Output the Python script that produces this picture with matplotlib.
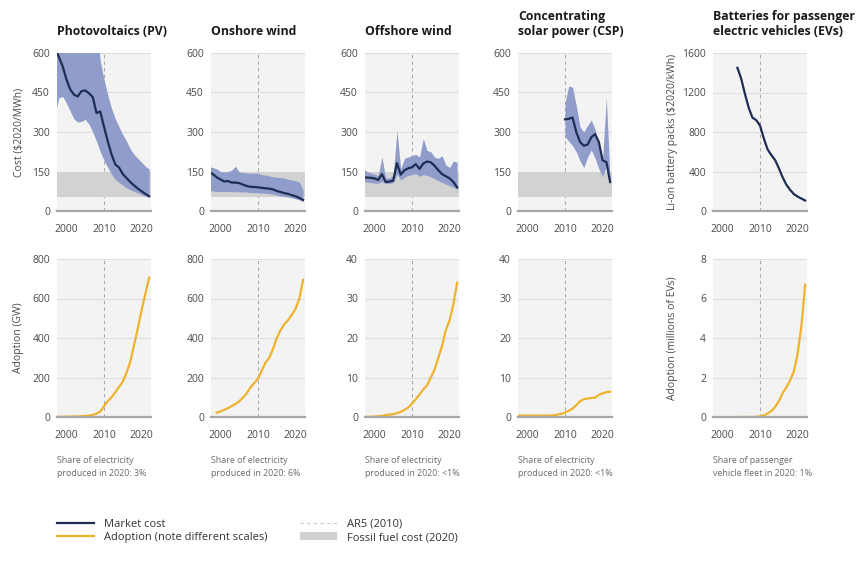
import matplotlib
matplotlib.use("Agg")
import matplotlib.pyplot as plt
from matplotlib.lines import Line2D
from matplotlib.patches import Patch

plt.rcParams['font.family'] = ['Open Sans', 'DejaVu Sans']

# ---- data ----
years_97 = list(range(1997, 2023))

pv_cost = [620, 585, 550, 500, 462, 442, 435, 455, 458, 447, 433, 372, 378,
           320, 265, 215, 177, 165, 140, 125, 110, 97, 85, 75, 65, 56]
pv_hi = [700, 700, 700, 700, 700, 700, 700, 700, 700, 700, 700, 700, 570,
         500, 440, 390, 350, 320, 290, 265, 235, 215, 200, 185, 170, 160]
pv_lo = [370, 430, 435, 410, 380, 350, 338, 340, 348, 330, 300, 265, 225,
         192, 165, 140, 120, 108, 98, 88, 80, 74, 68, 62, 57, 52]

on_cost = [148, 140, 128, 120, 112, 114, 108, 108, 106, 100, 95, 92, 91,
           90, 88, 86, 85, 82, 76, 72, 68, 65, 60, 56, 50, 42]
on_hi = [168, 165, 160, 150, 148, 150, 155, 170, 148, 146, 144, 144, 143,
         143, 138, 136, 133, 130, 128, 127, 125, 120, 118, 115, 110, 80]
on_lo = [80, 76, 74, 74, 74, 74, 73, 73, 73, 72, 72, 70, 70,
         69, 68, 67, 66, 64, 60, 57, 55, 53, 50, 46, 42, 36]

off_cost = [128, 127, 126, 124, 118, 140, 110, 112, 115, 182, 138, 155, 162,
            166, 178, 160, 180, 188, 185, 172, 155, 140, 132, 124, 110, 90]
off_hi = [160, 150, 145, 140, 135, 205, 125, 125, 135, 305, 160, 200, 205,
          210, 215, 205, 275, 230, 225, 205, 200, 210, 175, 165, 190, 185]
off_lo = [112, 110, 108, 106, 105, 112, 104, 105, 108, 140, 118, 128, 135,
          138, 142, 132, 138, 135, 130, 122, 115, 108, 102, 96, 90, 82]

years_csp = list(range(2010, 2023))
csp_cost = [348, 350, 355, 300, 262, 248, 252, 280, 292, 262, 192, 186, 110]
csp_hi = [410, 475, 470, 400, 320, 300, 325, 345, 310, 250, 200, 430, 115]
csp_lo = [283, 265, 248, 225, 190, 165, 205, 232, 200, 160, 130, 170, 105]

years_bat = list(range(2004, 2023))
bat_cost = [1450, 1340, 1185, 1045, 945, 920, 865, 737, 625, 567, 517, 435,
            343, 267, 214, 172, 146, 126, 106]

pv_adopt = [1, 1, 1, 1.5, 2, 2.5, 3, 4, 5, 7, 10, 17, 28,
            55, 80, 100, 125, 152, 180, 225, 280, 365, 450, 540, 625, 705]

years_on = list(range(1999, 2023))
on_adopt = [22, 28, 36, 45, 55, 66, 80, 98, 120, 150, 172, 194, 235, 275,
            300, 345, 400, 440, 470, 490, 518, 548, 600, 695]

off_adopt = [0.05, 0.05, 0.05, 0.1, 0.2, 0.25, 0.5, 0.6, 0.7, 1.0, 1.3, 1.8,
             2.4, 3.4, 4.5, 5.7, 7.0, 8.0, 10.0, 12.0, 15.0, 18.0, 22.0, 24.5,
             28.5, 34.0]

csp_adopt = [0.35, 0.35, 0.35, 0.35, 0.35, 0.35, 0.35, 0.35, 0.35, 0.35,
             0.45, 0.6, 0.8, 1.1, 1.6, 2.1, 3.0, 4.0, 4.5, 4.7, 4.8, 4.9,
             5.6, 6.0, 6.3, 6.4]

ev_adopt = [0, 0, 0, 0, 0, 0.01, 0.03, 0.08, 0.17, 0.3, 0.5, 0.8, 1.2,
            1.5, 1.85, 2.3, 3.2, 4.6, 6.7]

titles = ["Photovoltaics (PV)", "Onshore wind", "Offshore wind",
          "Concentrating\nsolar power (CSP)",
          "Batteries for passenger\nelectric vehicles (EVs)"]
notes = ["Share of electricity\nproduced in 2020: 3%",
         "Share of electricity\nproduced in 2020: 6%",
         "Share of electricity\nproduced in 2020: <1%",
         "Share of electricity\nproduced in 2020: <1%",
         "Share of passenger\nvehicle fleet in 2020: 1%"]
fossil_range = (55, 148)

# ---- styling ----
NAVY = '#1e2d52'
BAND = '#909cca'
ORANGE = '#eeb32e'
FOSSIL = '#d2d2d2'
BG = '#f3f3f3'
GRID = '#dedede'
TXT = '#4a4a4a'

W, H = 864, 564
fig = plt.figure(figsize=(W / 100, H / 100), dpi=100)
lefts = [57, 211, 365, 518, 713]
aw, ah = 94, 158


def make_ax(left_px, top_px):
    ax = fig.add_axes([left_px / W, 1 - (top_px + ah) / H, aw / W, ah / H])
    ax.set_facecolor(BG)
    for s in ax.spines.values():
        s.set_visible(False)
    ax.set_xlim(1997.5, 2022.5)
    ax.set_xticks([2000, 2010, 2020])
    ax.tick_params(length=0, labelsize=7.5, colors=TXT, pad=5)
    ax.tick_params(axis='x', pad=9)
    ax.grid(axis='y', color=GRID, lw=0.8, zorder=0)
    ax.set_axisbelow(True)
    ax.axvline(2010, color='#aaaaaa', lw=0.8, ls=(0, (3, 3)), zorder=1)
    ax.axhline(0, color='#a6a6a6', lw=1.6, zorder=4, clip_on=False)
    return ax


cost_sets = [(years_97, pv_cost, pv_lo, pv_hi),
             (years_97, on_cost, on_lo, on_hi),
             (years_97, off_cost, off_lo, off_hi),
             (years_csp, csp_cost, csp_lo, csp_hi)]
adopt_sets = [(years_97, pv_adopt, 800), (years_on, on_adopt, 800),
              (years_97, off_adopt, 40), (years_97, csp_adopt, 40),
              (years_bat, ev_adopt, 8)]

for i in range(5):
    # top row: cost
    ax = make_ax(lefts[i], 53)
    if i < 4:
        yrs, c, lo, hi = cost_sets[i]
        ax.axhspan(*fossil_range, color=FOSSIL, lw=0, zorder=1.5)
        ax.fill_between(yrs, lo, hi, color=BAND, lw=0, zorder=2)
        ax.plot(yrs, c, color=NAVY, lw=1.6, zorder=3)
        ax.set_ylim(0, 600)
        ax.set_yticks(range(0, 601, 150))
    else:
        ax.plot(years_bat, bat_cost, color=NAVY, lw=1.6, zorder=3)
        ax.set_ylim(0, 1600)
        ax.set_yticks(range(0, 1601, 400))
    ax.set_title(titles[i], loc='left', fontsize=8.8, fontweight='bold',
                 color='#1a1a1a', pad=13, linespacing=1.2)
    if i == 0:
        ax.set_ylabel("Cost ($2020/MWh)", fontsize=7.5, color=TXT)
        ax.yaxis.set_label_coords(-0.35, 0.5)
    if i == 4:
        ax.set_ylabel("Li-on battery packs ($2020/kWh)", fontsize=7.5,
                      color=TXT)
        ax.yaxis.set_label_coords(-0.37, 0.5)

    # bottom row: adoption
    ax2 = make_ax(lefts[i], 259)
    yrs, a, top = adopt_sets[i]
    ax2.plot(yrs, a, color=ORANGE, lw=1.6, zorder=3)
    ax2.set_ylim(0, top)
    ax2.set_yticks([top * k / 4 for k in range(5)])
    ax2.set_yticklabels([f"{top * k / 4:g}" for k in range(5)])
    ax2.text(0, -0.245, notes[i], transform=ax2.transAxes, ha='left',
             va='top', fontsize=6.4, color='#6a6a6a', linespacing=1.65)
    if i == 0:
        ax2.set_ylabel("Adoption (GW)", fontsize=7.5, color=TXT)
        ax2.yaxis.set_label_coords(-0.35, 0.5)
    if i == 4:
        ax2.set_ylabel("Adoption (millions of EVs)", fontsize=7.5, color=TXT)
        ax2.yaxis.set_label_coords(-0.37, 0.5)

handles = [Line2D([], [], color=NAVY, lw=1.6),
           Line2D([], [], color=ORANGE, lw=1.6),
           Line2D([], [], color='#c8c8c8', lw=0.8, ls=(0, (3, 3))),
           Patch(color=FOSSIL, lw=0)]
labels = ["Market cost", "Adoption (note different scales)",
          "AR5 (2010)", "Fossil fuel cost (2020)"]
fig.legend(handles, labels, loc='upper left',
           bbox_to_anchor=(57 / W, 1 - 519 / H), ncol=2, frameon=False,
           fontsize=8, handlelength=3.3, handletextpad=0.95,
           columnspacing=2.9, labelspacing=0.2, borderpad=0,
           borderaxespad=0, labelcolor='#333333')

fig.savefig("out.png", dpi=100)
